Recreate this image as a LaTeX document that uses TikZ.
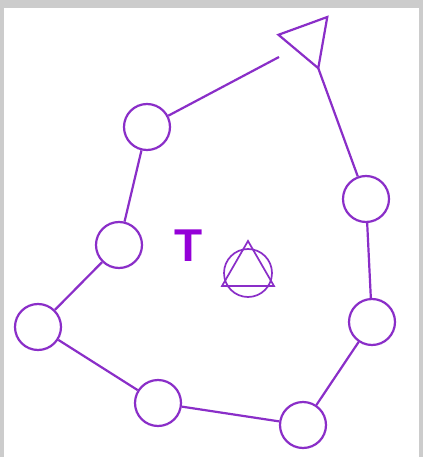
\documentclass[tikz,border=0pt]{standalone}
\usepackage{fontspec}
\setsansfont{Liberation Sans}
\usetikzlibrary{shapes.geometric}
\definecolor{ring}{HTML}{8A2EC8}
\definecolor{letter}{HTML}{9400D8}
\definecolor{frame}{HTML}{CCCCCC}

\begin{document}
\begin{tikzpicture}[
      x=1pt, y=-1pt,
      site/.style={draw=ring, circle, line width=2.2pt, minimum size=46pt, inner sep=0pt},
      pointer/.style={draw=ring, regular polygon, regular polygon sides=3, line width=2.2pt, minimum size=60pt, inner sep=0pt, outer sep=0pt},
      link/.style={draw=ring, line width=2.2pt}
  ]
    \useasboundingbox (0,0) rectangle (423,457);
    \fill[frame] (0,0) rectangle (423,457);
    \fill[white] (4,8) rectangle (419,457);

    % ring of sites
    \node[site] (c1) at (147,127) {};
    \node[site] (c2) at (119,245) {};
    \node[site] (c3) at (38,327) {};
    \node[site] (c4) at (158,403) {};
    \node[site] (c5) at (303,425) {};
    \node[site] (c6) at (372,322) {};
    \node[site] (c7) at (366,199) {};

    % triangle at the top
    \node[pointer, rotate=-40] (apex) at (308,40) {};
    \coordinate (gap) at (279,57);

    % centre mark
    \node[font=\sffamily\bfseries\fontsize{46}{46}\selectfont, text=letter] (tee) at (189,246) {T};
    \node[site, line width=1.7pt, minimum size=48pt] (hub) at (248,273) {};
    \node[pointer, line width=1.7pt] (hubtri) at (248,271) {};

    \draw[link] (c1) -- (gap);
    \draw[link] (apex.corner 3) -- (c7);
    \draw[link] (c7) -- (c6);
    \draw[link] (c6) -- (c5);
    \draw[link] (c5) -- (c4);
    \draw[link] (c4) -- (c3);
    \draw[link] (c3) -- (c2);
    \draw[link] (c2) -- (c1);
  \end{tikzpicture}
\end{document}
